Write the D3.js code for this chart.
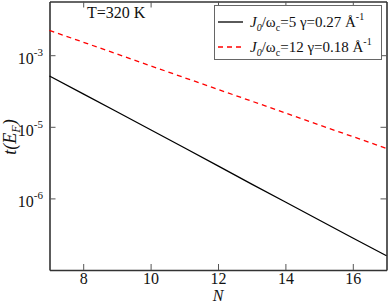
<!DOCTYPE html>
<html><head><meta charset="utf-8">
<script src="https://cdn.jsdelivr.net/npm/d3@7"></script>
<style>
html,body{margin:0;padding:0;background:#fff;}
svg{display:block;}
</style></head>
<body>
<svg id="c" width="388" height="305"></svg>
<script>
const N = [7, 8, 9, 10, 11, 12, 13, 14, 15, 16, 17];
const tBlack = [5.13e-4, 2.88e-4, 1.62e-4, 9.1e-5, 5.1e-5, 2.85e-5, 1.58e-5, 8.9e-6, 5.0e-6, 2.8e-6, 1.58e-6];
const tRed = [2.22e-3, 1.52e-3, 1.04e-3, 7.1e-4, 4.86e-4, 3.33e-4, 2.28e-4, 1.56e-4, 1.06e-4, 7.3e-5, 4.98e-5];
const xTicks = [8, 10, 12, 14, 16];
const yTicks = [1e-3, 1e-4, 1e-5];
const yTickExp = ["-3", "-5", "-6"];
const legendLabels = [
  {J: "5", g: "0.27"},
  {J: "12", g: "0.18"}
];

const FONT = "Liberation Serif";
const svg = d3.select("#c").attr("font-family", FONT);
const L = 49.5, R = 386.5, T = 1.5, B = 270;
const x = d3.scaleLinear().domain([7, 17]).range([L, R]);
const y = d3.scaleLog().domain([1e-6, Math.pow(10, -2.25)]).range([B, T]);

const axisColor = "#333";
const gb = svg.append("g").attr("transform", `translate(0,${B})`)
  .call(d3.axisBottom(x).tickValues(xTicks).tickSize(-6).tickSizeOuter(0).tickPadding(3).tickFormat(d3.format("d")));
const gt = svg.append("g").attr("transform", `translate(0,${T})`)
  .call(d3.axisTop(x).tickValues(xTicks).tickSize(-6).tickSizeOuter(0).tickFormat(""));
const gl = svg.append("g").attr("transform", `translate(${L},0)`)
  .call(d3.axisLeft(y).tickValues(yTicks).tickSize(-6).tickSizeOuter(0).tickFormat(""));
const gr = svg.append("g").attr("transform", `translate(${R},0)`)
  .call(d3.axisRight(y).tickValues(yTicks).tickSize(-6).tickSizeOuter(0).tickFormat(""));

[gb, gt, gl, gr].forEach(g => {
  g.attr("font-family", FONT);
  g.selectAll(".domain").attr("stroke", axisColor).attr("stroke-width", 1.6);
  g.selectAll(".tick line").attr("stroke", "#555").attr("stroke-width", 1);
});
gb.selectAll(".tick text").attr("font-size", 16).attr("fill", "#111").attr("font-family", FONT);

yTicks.forEach((v, i) => {
  const t = svg.append("text").attr("x", 43).attr("y", y(v) + 9)
    .attr("text-anchor", "end").attr("fill", "#111").attr("font-size", 16).attr("font-family", FONT);
  t.append("tspan").text("10");
  t.append("tspan").attr("dy", -8).attr("font-size", 11).text(yTickExp[i]);
});

const line = d3.line().x((d, i) => x(N[i])).y(d => y(d));
svg.append("path").datum(tBlack).attr("d", line).attr("fill", "none")
  .attr("stroke", "#000").attr("stroke-width", 1.3);
svg.append("path").datum(tRed).attr("d", line).attr("fill", "none")
  .attr("stroke", "#ff0000").attr("stroke-width", 1.3).attr("stroke-dasharray", "5,4");

svg.append("text").attr("x", x(12)).attr("y", 301).attr("text-anchor", "middle").attr("font-family", FONT)
  .attr("font-size", 16).attr("font-style", "italic").attr("fill", "#111").text("N");
const yl = svg.append("text").attr("transform", "translate(16,137) rotate(-90)").attr("font-family", FONT)
  .attr("text-anchor", "middle").attr("font-size", 18).attr("font-style", "italic").attr("fill", "#111");
yl.append("tspan").text("t(E");
yl.append("tspan").attr("dy", 4).attr("font-size", 12).text("F");
yl.append("tspan").attr("dy", -4).text(")");

svg.append("text").attr("x", 87).attr("y", 18).attr("font-size", 16).attr("fill", "#111").attr("font-family", FONT).text("T=320 K");

svg.append("rect").attr("x", 214.5).attr("y", 5.5).attr("width", 167).attr("height", 54)
  .attr("fill", "#fff").attr("stroke", "#666").attr("stroke-width", 1);
const legStyles = [{c: "#000", dash: null}, {c: "#ff0000", dash: "5,4"}];
legendLabels.forEach((d, i) => {
  const yy = 22 + i * 25;
  svg.append("line").attr("x1", 218).attr("x2", 243).attr("y1", yy).attr("y2", yy)
    .attr("stroke", legStyles[i].c).attr("stroke-width", 1.3)
    .attr("stroke-dasharray", legStyles[i].dash);
  const t = svg.append("text").attr("x", 250).attr("y", yy + 5).attr("font-size", 15).attr("fill", "#111").attr("font-family", FONT);
  t.append("tspan").attr("font-style", "italic").text("J");
  t.append("tspan").attr("font-style", "italic").attr("font-size", 10).attr("dy", 4).text("0");
  t.append("tspan").attr("dy", -4).text("/ω");
  t.append("tspan").attr("font-size", 10).attr("dy", 4).text("c");
  t.append("tspan").attr("dy", -4).text("=" + d.J + "  γ=" + d.g + " Å");
  t.append("tspan").attr("font-size", 10).attr("dy", -7).text("-1");
});
</script>
</body></html>
